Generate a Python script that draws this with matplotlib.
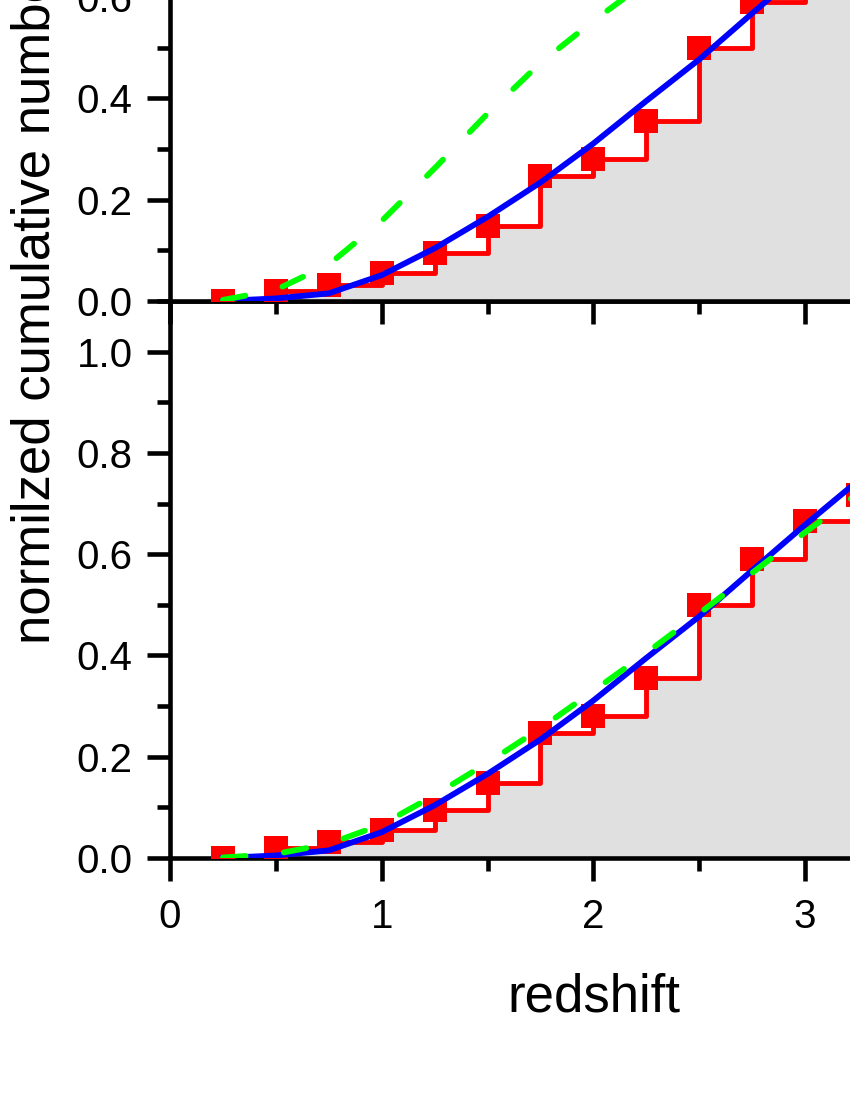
import matplotlib
matplotlib.use("Agg")
import matplotlib.pyplot as plt
from matplotlib.ticker import MultipleLocator, FormatStrFormatter

# redshift grid of the cumulative distribution
redshift = [0.25, 0.5, 0.75, 1.0, 1.25, 1.5, 1.75, 2.0, 2.25, 2.5, 2.75, 3.0, 3.25]
# observed normalized cumulative number (red squares / steps)
cum_obs = [0.0, 0.019, 0.031, 0.056, 0.095, 0.148, 0.246, 0.281, 0.355, 0.499, 0.591, 0.666, 0.716]
# blue model curve (same in both panels)
cum_fit = [0.0, 0.005, 0.015, 0.051, 0.104, 0.166, 0.234, 0.311, 0.395, 0.477, 0.568, 0.658, 0.745]
# green dashed models
cum_model_top = [0.002, 0.022, 0.072, 0.158, 0.262, 0.370, 0.470, 0.553, 0.630, 0.700, 0.760, 0.810, 0.850]
cum_model_bottom = [0.001, 0.008, 0.028, 0.066, 0.124, 0.188, 0.256, 0.330, 0.405, 0.483, 0.563, 0.643, 0.720]

plt.rcParams['font.family'] = ['Liberation Sans', 'DejaVu Sans']

fig = plt.figure(figsize=(8.5, 11), dpi=100)
ax_top = fig.add_axes([0.2, 0.7264, 0.9962, 0.5064])
ax_bot = fig.add_axes([0.2, 0.22, 0.9962, 0.5064])
ax_top.set_zorder(3)

for ax, model in ((ax_top, cum_model_top), (ax_bot, cum_model_bottom)):
    ax.fill_between(redshift, cum_obs, 0, step='post', color='#e0e0e0', lw=0, zorder=1)
    ax.step(redshift, cum_obs, where='post', color='#ff0000', lw=3.5, zorder=2)
    ax.plot(redshift, cum_obs, 's', color='#ff0000', ms=17.5, mew=0, zorder=3)
    ax.plot(redshift, cum_fit, color='#0000ff', lw=4.2, zorder=4)
    ax.plot(redshift, model, color='#00ff00', lw=4.2, dashes=(3.9, 6.6),
            dash_capstyle='round', zorder=5)

    ax.set_xlim(0, 4)
    ax.set_ylim(0, 1.1)
    ax.xaxis.set_major_locator(MultipleLocator(1))
    ax.xaxis.set_minor_locator(MultipleLocator(0.5))
    ax.yaxis.set_major_locator(MultipleLocator(0.2))
    ax.yaxis.set_minor_locator(MultipleLocator(0.1))
    ax.yaxis.set_major_formatter(FormatStrFormatter('%.1f'))
    ax.tick_params(which='both', direction='out', width=3.3, labelsize=29)
    ax.tick_params(which='major', length=16.5)
    ax.tick_params(which='minor', length=9.4)
    ax.tick_params(axis='y', pad=10.5)
    ax.tick_params(axis='x', pad=12)
    for sp in ax.spines.values():
        sp.set_linewidth(3.3)

ax_top.tick_params(axis='x', labelbottom=False)

fig.text(0.6988, 0.0803, "redshift", fontsize=38, ha='center', va='baseline')
fig.text(0.058, 0.7273, "normilzed cumulative number", fontsize=38, rotation=90,
         rotation_mode='anchor', ha='center', va='baseline')

plt.savefig("out.png", dpi=100)
